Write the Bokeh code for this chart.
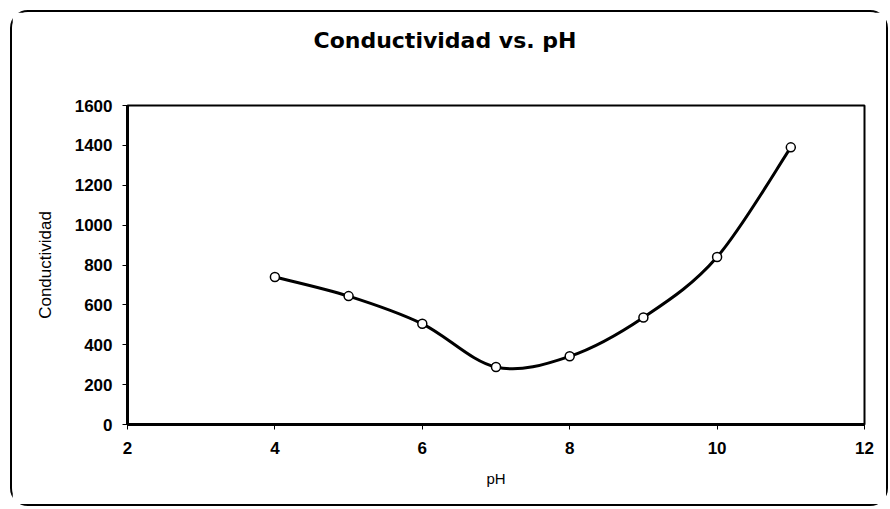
from bokeh.plotting import figure
from bokeh.embed import file_html
from bokeh.resources import INLINE
from bokeh.models import Range1d, FixedTicker, Title

ph = [4, 5, 6, 7, 8, 9, 10, 11]
conductividad = [740, 644, 505, 288, 342, 537, 840, 1390]
x_ticks = [2, 4, 6, 8, 10, 12]
y_ticks = [0, 200, 400, 600, 800, 1000, 1200, 1400, 1600]
titulo = "Conductividad vs. pH"

p = figure(width=878, height=496, output_backend="svg", toolbar_location=None,
           x_range=Range1d(2, 12), y_range=Range1d(0, 1600),
           min_border_left=115, min_border_right=26, min_border_top=93,
           min_border_bottom=84)
p.styles = {"border": "2px solid black", "border-radius": "18px",
            "margin-left": "10px", "margin-top": "10px"}

# blank spacer title next to the frame, real title above it
p.add_layout(Title(text=" ", text_font_size="10px", standoff=40), "above")
p.add_layout(Title(text=titulo, align="left", offset=186, standoff=0,
                   text_font="DejaVu Sans", text_font_size="22px",
                   text_font_style="bold", text_color="black"), "above")

p.xgrid.visible = False
p.ygrid.visible = False
p.outline_line_color = "black"
p.outline_line_width = 2
p.background_fill_color = "white"
p.border_fill_color = "white"

for ax in (p.xaxis, p.yaxis):
    ax.axis_line_width = 3
    ax.axis_line_color = "black"
    ax.major_tick_line_color = "black"
    ax.major_tick_line_width = 1
    ax.major_tick_out = 5
    ax.major_tick_in = 0
    ax.minor_tick_line_color = None
    ax.major_label_text_font = "Liberation Sans"
    ax.major_label_text_font_style = "bold"
    ax.major_label_text_font_size = "17px"
    ax.major_label_text_color = "black"
    ax.axis_label_text_font = "Liberation Sans"
    ax.axis_label_text_font_style = "normal"
    ax.axis_label_text_color = "black"

p.xaxis.axis_label_text_font_size = "15px"
p.yaxis.axis_label_text_font_size = "17px"
p.xaxis.ticker = FixedTicker(ticks=x_ticks)
p.yaxis.ticker = FixedTicker(ticks=y_ticks)
p.xaxis.axis_label = "pH"
p.yaxis.axis_label = "Conductividad"
p.xaxis.major_label_standoff = 12
p.yaxis.major_label_standoff = 10
p.xaxis.axis_label_standoff = 13
p.yaxis.axis_label_standoff = 17

# Excel-style smoothed line (Catmull-Rom Bezier segments from the data)
n = len(ph)
x0, y0, x1, y1, cx0, cy0, cx1, cy1 = ([] for _ in range(8))
for i in range(n - 1):
    pm = i - 1 if i > 0 else i
    pp = i + 2 if i + 2 < n else i + 1
    x0.append(ph[i]); y0.append(conductividad[i])
    x1.append(ph[i + 1]); y1.append(conductividad[i + 1])
    cx0.append(ph[i] + (ph[i + 1] - ph[pm]) / 6)
    cy0.append(conductividad[i] + (conductividad[i + 1] - conductividad[pm]) / 6)
    cx1.append(ph[i + 1] - (ph[pp] - ph[i]) / 6)
    cy1.append(conductividad[i + 1] - (conductividad[pp] - conductividad[i]) / 6)

p.bezier(x0=x0, y0=y0, x1=x1, y1=y1, cx0=cx0, cy0=cy0, cx1=cx1, cy1=cy1,
         line_color="black", line_width=3)
p.scatter(ph, conductividad, marker="circle", size=9, fill_color="white",
          line_color="black", line_width=1.5)

open("out.html", "w").write(file_html(p, INLINE))
